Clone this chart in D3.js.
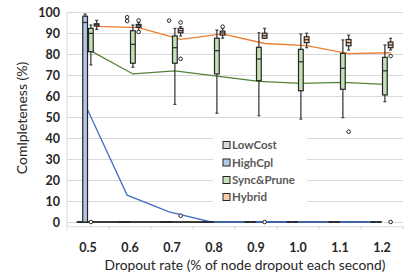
<!DOCTYPE html>
<html>
<head>
<meta charset="utf-8">
<script src="https://cdn.jsdelivr.net/npm/d3@7"></script>
<style>
  body { margin: 0; background: #fff; }
  svg { display: block; font-family: Lato, "Open Sans", sans-serif; }
  .grid line { stroke: #d9d9d9; }
  .grid path { display: none; }
</style>
</head>
<body>
<div id="chart"></div>
<script>
// Categories and series
const categories = ['0.5', '0.6', '0.7', '0.8', '0.9', '1.0', '1.1', '1.2']
const seriesNames = ['LowCost', 'HighCpl', 'Sync&Prune', 'Hybrid']
const yTicks = [0, 10, 20, 30, 40, 50, 60, 70, 80, 90, 100]

// Box stats per category: [min, q1, median, q3, max]
const lowCostBoxes = [
  [0, 0, 0, 0, 0], [0, 0, 0, 0, 0], [0, 0, 0, 0, 0], [0, 0, 0, 0, 0],
  [0, 0, 0, 0, 0], [0, 0, 0, 0, 0], [0, 0, 0, 0, 0], [0, 0, 0, 0, 0]
]
const highCplBoxes = [
  [0, 0, 95, 98, 99], [0, 0, 0, 0, 0], [0, 0, 0, 0, 0], [0, 0, 0, 0, 0],
  [0, 0, 0, 0, 0], [0, 0, 0, 0, 0], [0, 0, 0, 0, 0], [0, 0, 0, 0, 0]
]
const syncBoxes = [
  [74.8, 81.1, 89.8, 92.2, 93.8],
  [73.7, 75.6, 84.6, 91.1, 93.8],
  [56, 75.6, 83, 88.6, 92.2],
  [51.8, 70.5, 81.6, 87.5, 91.4],
  [50.6, 67.3, 77.6, 83.2, 90.1],
  [49, 62.5, 76.3, 82.2, 89.5],
  [49.7, 63.2, 73.2, 80.3, 86.7],
  [57.3, 60.5, 72, 78.4, 84.3]
]
const hybridBoxes = [
  [91.7, 93.3, 93.9, 94.4, 96],
  [91, 92.7, 93.4, 94.1, 95],
  [88.6, 90.1, 91.1, 92.2, 93],
  [87.5, 89, 90, 90.9, 92.2],
  [87.5, 87.5, 88.7, 89.9, 92.2],
  [83, 85.4, 86.8, 88.2, 89.9],
  [81.9, 83.9, 85.4, 86.9, 89],
  [81.9, 83, 84.3, 85.7, 87.5]
]

// Mean lines
const lowCostMean = [0, 0, 0, 0, 0, 0, 0, 0]
const highCplMean = [56, 12.8, 4.8, 0, 0, 0, 0, 0]
const syncMean = [81.5, 70.5, 72, 69.5, 67, 66, 66.5, 65.5]
const hybridMean = [93.2, 92.6, 87, 89.6, 85, 84, 80.2, 80.6]

// Outliers: [series, category, value]
const outliers = [
  ['HighCpl', '0.6', 97.5], ['HighCpl', '0.6', 95.7], ['HighCpl', '0.7', 95.9],
  ['Sync&Prune', '0.5', 0],
  ['Hybrid', '0.6', 96], ['Hybrid', '0.6', 90.5],
  ['Hybrid', '0.7', 95], ['Hybrid', '0.7', 77.7], ['Hybrid', '0.7', 3],
  ['Hybrid', '0.8', 93], ['Hybrid', '0.9', 0], ['Hybrid', '1.1', 43],
  ['Hybrid', '1.2', 79], ['Hybrid', '1.2', 0]
]

const fills = ['#d9d9d9', '#b4c7e7', '#c5e0b4', '#f8cbad']
const lineColors = ['#000000', '#4472c4', '#548235', '#ed7d31']
const boxes = [lowCostBoxes, highCplBoxes, syncBoxes, hybridBoxes]
const means = [lowCostMean, highCplMean, syncMean, hybridMean]

const width = 415
const height = 275
const margin = { top: 12, right: 12, bottom: 47, left: 67 }
const innerWidth = width - margin.left - margin.right

const svg = d3.select('#chart')
  .append('svg')
  .attr('width', width)
  .attr('height', height)

const g = svg.append('g')
  .attr('transform', `translate(${margin.left}, 0)`)

// Scales
const xScale = d3.scaleBand().domain(categories).range([0, innerWidth])
const xSub = d3.scaleBand().domain(seriesNames).range([-11.5, 11.5])
const yScale = d3.scaleLinear().domain([-2, 100]).range([226.2, 12])
const boxW = xSub.bandwidth()
const cx = (s, c) => xScale(c) + xScale.bandwidth() / 2 + xSub(s) + boxW / 2

// Gridlines
g.append('g')
  .attr('class', 'grid')
  .call(d3.axisLeft(yScale).tickValues(yTicks).tickSize(-innerWidth).tickFormat(''))

// Left axis line
g.append('line')
  .attr('x1', 0).attr('x2', 0)
  .attr('y1', yScale(100)).attr('y2', yScale(-2))
  .attr('stroke', '#d9d9d9')

// Y labels
g.append('g')
  .selectAll('text')
  .data(yTicks)
  .join('text')
  .attr('x', -7)
  .attr('y', d => yScale(d))
  .attr('dy', '0.36em')
  .attr('text-anchor', 'end')
  .attr('font-size', 12.5)
  .attr('font-weight', 'bold')
  .attr('fill', '#262626')
  .text(d => d)

// Bottom axis
const bottom = g.append('g')
  .attr('transform', `translate(0, ${yScale(-2)})`)
  .call(d3.axisBottom(xScale).tickSize(0).tickFormat(''))
bottom.select('.domain').attr('stroke', '#d9d9d9')
bottom.selectAll('.bnd')
  .data(d3.range(categories.length + 1))
  .join('line')
  .attr('x1', i => i * xScale.bandwidth())
  .attr('x2', i => i * xScale.bandwidth())
  .attr('y1', 0).attr('y2', 4)
  .attr('stroke', '#d9d9d9')

g.append('g')
  .selectAll('text')
  .data(categories)
  .join('text')
  .attr('x', d => xScale(d) + xScale.bandwidth() / 2)
  .attr('y', 252)
  .attr('text-anchor', 'middle')
  .attr('font-size', 12.5)
  .attr('font-weight', 'bold')
  .attr('fill', '#262626')
  .text(d => d)

// Mean lines
seriesNames.forEach((s, si) => {
  const line = d3.line()
    .x((d, i) => cx(s, categories[i]))
    .y(d => yScale(d))
  g.append('path')
    .datum(means[si])
    .attr('fill', 'none')
    .attr('stroke', lineColors[si])
    .attr('stroke-width', si === 0 ? 1.5 : 1.3)
    .attr('d', line)
})

// Boxes
seriesNames.forEach((s, si) => {
  const grp = g.append('g')
  boxes[si].forEach((b, ci) => {
    const c = categories[ci]
    const x = cx(s, c)
    const [lo, q1, med, q3, hi] = b
    grp.append('line')
      .attr('x1', x).attr('x2', x)
      .attr('y1', yScale(hi)).attr('y2', yScale(lo))
      .attr('stroke', '#404040').attr('stroke-width', 1.3)
    ;[lo, hi].forEach(v => grp.append('line')
      .attr('x1', x - 1.5).attr('x2', x + 1.5)
      .attr('y1', yScale(v)).attr('y2', yScale(v))
      .attr('stroke', '#404040').attr('stroke-width', 1.2))
    grp.append('rect')
      .attr('x', x - boxW / 2 + 0.5)
      .attr('width', boxW - 1)
      .attr('y', yScale(q3))
      .attr('height', Math.max(0.01, yScale(q1) - yScale(q3)))
      .attr('fill', fills[si])
      .attr('stroke', '#262626')
      .attr('stroke-width', 1.2)
    grp.append('line')
      .attr('x1', x - boxW / 2 + 0.5).attr('x2', x + boxW / 2 - 0.5)
      .attr('y1', yScale(med)).attr('y2', yScale(med))
      .attr('stroke', '#262626').attr('stroke-width', 1.2)
  })
})

// Outliers
g.append('g')
  .selectAll('circle')
  .data(outliers)
  .join('circle')
  .attr('cx', d => cx(d[0], d[1]))
  .attr('cy', d => yScale(d[2]))
  .attr('r', 1.8)
  .attr('fill', '#fff')
  .attr('stroke', '#262626')
  .attr('stroke-width', 1)

// Legend
const legend = g.append('g')
legend.append('rect')
  .attr('x', 213 - margin.left).attr('y', 134)
  .attr('width', 94).attr('height', 71)
  .attr('fill', '#fff')
const legendY = [145, 162.5, 180, 197]
seriesNames.forEach((s, si) => {
  legend.append('rect')
    .attr('x', 223 - margin.left).attr('y', legendY[si] - 3.5)
    .attr('width', 7).attr('height', 7)
    .attr('fill', fills[si])
    .attr('stroke', '#262626')
  legend.append('text')
    .attr('x', 232 - margin.left).attr('y', legendY[si])
    .attr('dy', '0.36em')
    .attr('font-size', 11.5)
    .attr('font-weight', 'bold')
    .attr('fill', '#595959')
    .text(s)
})

// Axis titles
svg.append('text')
  .attr('transform', `translate(27, 118) rotate(-90)`)
  .attr('text-anchor', 'middle')
  .attr('font-size', 14)
  .attr('fill', '#262626')
  .text('Comlpleteness (%)')

svg.append('text')
  .attr('x', 245).attr('y', 270)
  .attr('text-anchor', 'middle')
  .attr('font-size', 13.8)
  .attr('fill', '#262626')
  .text('Dropout rate (% of node dropout each second)')
</script>
</body>
</html>
